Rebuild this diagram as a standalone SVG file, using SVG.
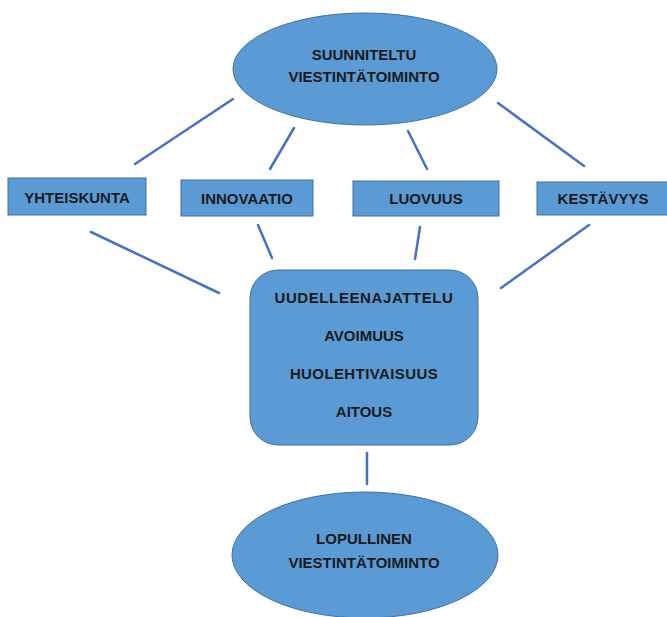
<svg xmlns="http://www.w3.org/2000/svg" width="667" height="617" viewBox="0 0 667 617">
<style>
.shape{fill:#5B9BD5;stroke:#41719C;stroke-width:1}
.lbl{font-family:"Liberation Sans",Arial,sans-serif;font-weight:bold;font-size:15px;fill:#1a1a1a;text-anchor:middle}
.conn line{stroke:#4472C4;stroke-width:2.5;stroke-linecap:round}
</style>
<rect width="667" height="617" fill="#ffffff"/>
<g class="conn" id="connectors">
<line x1="233" y1="99" x2="135" y2="164"/>
<line x1="294" y1="128" x2="270" y2="169"/>
<line x1="408" y1="131" x2="427" y2="169"/>
<line x1="498" y1="103" x2="584" y2="166"/>
<line x1="91" y1="232" x2="219" y2="293"/>
<line x1="258" y1="225" x2="272" y2="258"/>
<line x1="420" y1="227" x2="415" y2="259"/>
<line x1="589" y1="225" x2="501" y2="288"/>
<line x1="367" y1="453" x2="367" y2="484"/>
</g>
<g id="suunniteltu">
<ellipse class="shape" cx="365" cy="69" rx="132" ry="56"/>
<text class="lbl" x="364" y="60">SUUNNITELTU</text>
<text class="lbl" x="364" y="82">VIESTINTÄTOIMINTO</text>
</g>
<g id="yhteiskunta">
<rect class="shape" x="8" y="178" width="138" height="37"/>
<text class="lbl" x="77" y="203">YHTEISKUNTA</text>
</g>
<g id="innovaatio">
<rect class="shape" x="181" y="180" width="132" height="36"/>
<text class="lbl" x="247" y="204">INNOVAATIO</text>
</g>
<g id="luovuus">
<rect class="shape" x="353" y="181" width="146" height="35"/>
<text class="lbl" x="426" y="204">LUOVUUS</text>
</g>
<g id="kestavyys">
<rect class="shape" x="537" y="182" width="132" height="33"/>
<text class="lbl" x="603" y="204">KESTÄVYYS</text>
</g>
<g id="arvot">
<rect class="shape" x="250" y="270" width="228" height="175" rx="28" ry="28"/>
<text class="lbl" x="364" y="303" letter-spacing="0.6">UUDELLEENAJATTELU</text>
<text class="lbl" x="364" y="341">AVOIMUUS</text>
<text class="lbl" x="364" y="379" letter-spacing="0.4">HUOLEHTIVAISUUS</text>
<text class="lbl" x="364" y="417">AITOUS</text>
</g>
<g id="lopullinen">
<ellipse class="shape" cx="365" cy="555" rx="133" ry="63"/>
<text class="lbl" x="364" y="544">LOPULLINEN</text>
<text class="lbl" x="364" y="568">VIESTINTÄTOIMINTO</text>
</g>
</svg>
